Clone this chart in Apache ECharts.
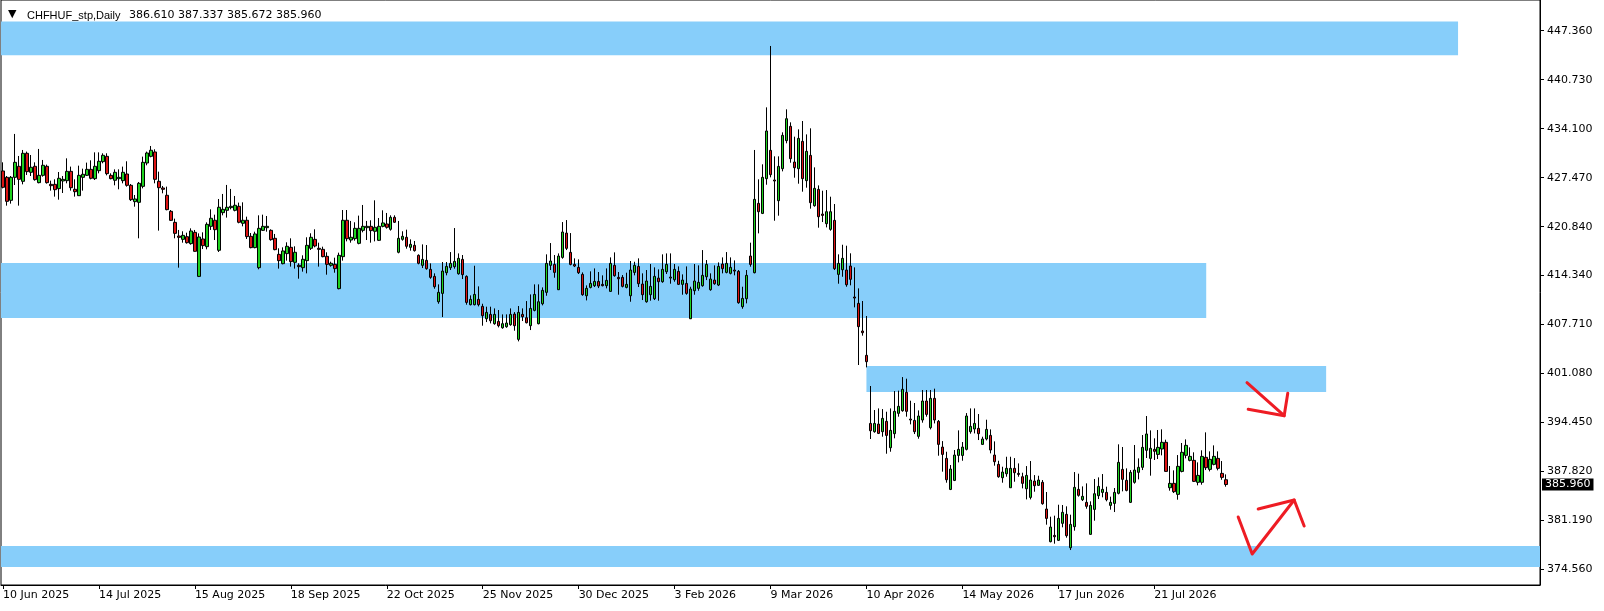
<!DOCTYPE html>
<html><head><meta charset="utf-8">
<script src="https://cdn.jsdelivr.net/npm/echarts@6/dist/echarts.min.js"></script>
<style>html,body{margin:0;padding:0;background:#fff}#c{width:1604px;height:611px}</style>
</head><body><div id="c"></div>
<script>
// ---- data ----
const symbolTitle = 'CHFHUF_stp,Daily';
const lastOHLC = [386.610, 387.337, 385.672, 385.960];
const priceTicks = [374.56, 381.19, 387.82, 394.45, 401.08, 407.71, 414.34, 420.84, 427.47, 434.10, 440.73, 447.36];
const dateTickLabels = ['10 Jun 2025','14 Jul 2025','15 Aug 2025','18 Sep 2025','22 Oct 2025','25 Nov 2025','30 Dec 2025','3 Feb 2026','9 Mar 2026','10 Apr 2026','14 May 2026','17 Jun 2026','21 Jul 2026'];
const holidays = ['2025-12-25','2026-01-01'];

const opens = [428.38,427.52,424.41,427.52,429.01,426.98,430.77,428.20,429.01,426.80,427.79,429.01,426.57,426.57,425.99,427.03,427.07,428.33,425.90,425.04,427.52,427.79,428.60,427.34,428.42,429.64,430.36,427.79,427.12,427.34,427.07,427.97,426.44,424.23,424.14,426.30,429.46,430.36,430.95,426.98,426.08,425.09,422.92,421.43,419.58,419.13,419.49,418.55,420.08,414.12,419.18,418.14,
420.89,421.71,417.65,422.74,423.06,423.42,423.06,423.60,421.30,421.71,419.54,418.01,415.30,420.35,420.71,420.35,419.27,417.10,415.84,417.20,418.05,416.02,415.62,415.30,416.25,417.92,419.13,417.92,417.78,416.83,415.62,415.75,412.46,416.79,421.71,419.04,419.22,418.59,420.35,420.71,420.89,420.22,419.00,420.89,421.21,420.49,422.11,417.38,419.13,419.41,418.05,418.32,416.97,
415.61,416.29,415.07,414.12,410.69,411.82,414.62,415.29,415.43,414.48,416.42,414.12,410.29,410.29,411.01,410.06,408.39,408.98,407.72,408.03,407.17,407.31,407.58,409.02,405.60,408.98,408.53,407.45,409.52,407.72,410.42,411.96,415.61,415.74,412.32,416.69,419.98,417.37,415.74,415.34,414.39,411.50,412.63,412.86,413.44,413.04,412.86,412.09,415.61,413.99,413.99,412.63,
411.50,414.66,415.47,413.08,410.69,411.64,411.10,413.89,413.40,414.75,413.89,413.67,414.80,413.04,413.17,408.39,412.18,412.50,412.86,414.07,412.32,413.62,412.95,415.79,414.66,414.53,414.98,414.80,410.02,411.10,416.87,414.62,424.00,422.64,427.34,431.17,427.16,424.36,428.69,432.48,434.42,429.59,428.69,432.39,427.07,430.49,423.68,425.89,422.55,421.25,420.48,421.70,414.39,415.02,414.98,
415.52,411.33,410.47,406.73,403.44,394.23,393.11,394.14,393.11,394.51,390.94,392.84,395.59,395.95,398.43,394.82,394.64,392.48,394.69,397.26,393.65,397.62,394.51,391.03,389.50,385.30,386.52,389.90,389.90,390.72,393.11,393.47,393.56,391.39,392.12,392.61,389.95,388.69,386.88,387.42,385.53,388.15,387.47,387.02,385.39,384.22,386.43,385.85,
386.26,382.65,378.23,379.08,378.41,380.71,381.93,377.41,380.26,385.31,383.91,383.55,379.22,382.60,384.45,384.90,384.90,383.14,383.41,384.77,388.01,386.53,383.55,386.26,387.61,388.29,390.59,389.50,390.72,390.04,390.77,391.67,385.53,386.12,384.63,387.74,389.91,389.23,389.23,386.26,386.26,389.64,388.01,388.69,389.50,387.47,386.61];

const closes = [426.17,424.27,427.52,429.55,427.25,430.77,428.29,428.88,427.21,427.79,429.15,426.80,426.39,425.85,427.39,427.25,428.33,426.12,425.58,427.79,427.93,428.60,427.39,429.01,429.69,430.50,428.02,427.34,428.20,427.52,428.20,426.44,424.50,424.59,426.71,429.55,430.81,431.18,427.25,426.12,425.90,423.15,421.70,419.94,419.40,419.67,418.68,420.26,417.51,419.45,418.28,421.16,
421.98,420.44,423.47,423.19,423.47,423.60,423.74,421.44,421.71,419.50,418.01,419.86,420.62,420.89,420.89,419.09,417.74,416.25,417.56,418.19,416.11,417.38,415.44,416.43,418.32,419.41,418.23,417.78,416.79,415.75,415.89,415.17,416.97,421.71,419.22,419.41,420.62,420.62,420.89,420.89,420.31,420.76,420.89,421.35,420.76,422.11,421.44,419.27,419.54,418.19,418.46,417.60,415.89,
416.42,415.16,413.99,412.72,411.96,414.84,415.47,415.88,416.15,416.56,414.35,410.60,411.01,411.68,410.29,408.80,409.25,408.12,408.98,407.45,407.72,407.81,408.98,407.45,409.25,408.66,407.85,409.79,411.68,410.69,412.23,415.88,416.20,414.66,416.87,420.12,417.91,415.74,415.52,414.62,411.64,412.50,413.17,413.44,412.81,412.86,413.58,415.88,414.21,413.80,412.77,413.04,
414.98,415.61,413.13,411.64,413.49,412.77,414.12,413.40,415.07,415.74,414.03,415.07,413.04,413.62,411.82,412.41,413.49,413.31,414.26,415.74,413.76,413.13,415.47,415.16,415.88,415.34,414.84,410.56,411.14,414.26,415.74,424.54,422.87,427.52,433.79,427.88,427.02,429.00,433.20,435.45,430.04,428.82,432.79,427.34,431.04,424.09,426.03,422.19,422.37,422.87,422.87,415.16,415.88,416.56,412.99,
413.72,411.19,407.32,406.50,402.58,393.24,394.23,392.88,394.91,392.61,393.29,395.86,396.54,398.84,395.86,394.69,393.11,395.23,397.26,395.45,397.62,394.69,391.39,390.04,386.61,388.06,389.95,390.72,391.03,395.23,393.83,394.23,392.84,392.12,393.42,390.63,389.05,387.02,387.65,388.15,388.15,387.56,387.33,386.12,387.20,386.57,385.80,386.57,
383.37,381.38,380.21,378.90,381.38,382.20,379.04,380.57,385.58,384.50,384.36,383.01,383.14,384.72,385.71,385.31,383.91,383.55,384.90,388.96,386.66,385.17,387.61,387.92,388.29,390.99,392.80,390.86,390.45,390.99,391.67,387.74,386.12,384.99,388.42,390.32,391.26,389.77,386.39,387.20,389.77,388.24,389.37,389.77,388.15,386.93,385.96];

const highs = [429.55,427.70,427.70,433.39,430.41,431.22,431.00,430.54,429.55,431.36,429.87,429.24,427.07,427.25,428.24,427.70,430.09,428.97,427.25,429.10,428.69,429.51,429.82,430.90,430.90,430.77,430.77,428.06,428.60,428.60,428.97,429.69,426.62,425.13,426.89,430.32,431.00,431.76,431.31,428.29,426.35,426.26,423.10,421.93,420.40,420.22,420.03,420.62,420.40,419.94,420.08,421.43,
423.19,422.47,424.59,425.27,426.49,425.95,425.00,424.10,424.14,422.20,419.99,420.17,422.38,422.47,422.29,420.49,419.86,417.92,418.05,418.73,419.27,418.19,415.89,416.97,419.41,419.95,420.49,418.68,418.14,417.38,416.11,416.65,417.33,423.10,423.10,421.62,421.44,422.34,423.78,421.62,421.71,424.41,422.02,423.06,422.70,422.38,422.38,421.62,420.22,420.44,419.13,418.91,417.10,
418.45,418.36,415.88,414.53,413.04,416.06,416.06,417.41,420.66,417.23,417.01,414.26,411.55,415.56,412.77,410.42,410.02,410.02,409.79,409.57,408.98,408.98,409.79,409.29,410.11,409.79,410.78,411.68,413.04,413.04,412.63,417.10,418.63,417.01,417.23,421.47,421.74,419.98,416.56,416.42,414.66,412.90,414.80,415.20,414.71,414.26,415.20,416.69,417.37,414.71,414.30,414.62,
416.20,416.10,416.56,414.53,414.98,415.79,415.34,415.07,417.10,417.23,417.23,415.79,415.47,414.39,415.47,412.72,415.79,415.61,417.68,416.33,414.53,415.61,416.01,416.69,417.41,416.69,416.28,414.98,412.72,414.98,418.68,431.22,427.25,429.28,436.99,445.29,430.36,430.36,433.61,436.72,434.96,433.02,434.01,435.14,433.33,434.15,428.87,426.43,425.71,425.80,424.90,423.91,417.10,418.40,418.27,
417.24,415.34,412.50,410.79,408.76,399.29,396.04,396.26,396.17,395.81,396.26,398.61,398.66,400.50,400.28,397.30,396.99,395.99,398.75,398.75,398.75,398.93,394.69,391.84,390.40,388.60,390.63,393.29,391.71,395.63,396.26,396.26,395.50,392.43,394.73,393.42,391.80,389.18,388.37,389.72,389.72,389.54,388.82,387.56,388.46,389.14,387.24,387.15,
386.57,384.95,381.61,381.75,383.23,383.19,383.01,381.88,387.65,387.43,385.71,386.12,383.69,386.71,386.93,387.38,385.67,384.32,385.49,391.40,391.04,388.15,387.92,391.31,389.50,392.66,395.23,393.29,392.21,393.34,393.43,392.03,388.47,387.88,389.95,391.58,392.07,390.99,390.32,388.96,390.59,393.02,390.45,391.26,390.45,389.14,387.337];

const lows = [426.03,423.69,423.96,426.48,423.69,426.57,427.84,427.70,427.07,426.71,427.61,426.67,425.72,424.91,424.50,425.40,426.71,425.72,424.91,425.00,425.72,427.70,427.25,427.16,428.06,429.42,427.79,427.25,426.44,425.90,426.71,426.26,424.32,423.55,419.27,426.03,429.15,430.23,426.71,420.31,425.36,423.06,421.61,419.27,415.30,418.68,418.55,418.41,417.46,414.03,417.82,417.78,
420.40,419.04,417.42,422.38,422.07,423.19,422.92,421.30,420.89,419.18,417.92,417.92,415.08,420.26,420.17,418.95,417.65,415.17,415.75,416.25,415.44,415.17,413.81,414.76,414.53,417.69,418.05,415.44,416.70,414.35,415.44,414.62,412.37,416.25,418.86,418.68,418.95,418.46,420.08,419.04,418.68,418.86,418.91,420.76,420.58,420.31,421.35,417.24,418.95,417.87,417.60,417.47,415.75,
415.25,415.02,413.80,412.45,410.42,408.62,414.26,414.98,415.16,414.35,413.76,410.29,410.20,410.20,410.06,407.45,407.94,407.76,407.58,407.22,407.04,407.17,407.45,406.77,405.33,408.08,407.76,406.86,409.39,407.63,410.20,411.50,414.98,413.94,412.27,416.51,417.68,415.61,415.38,414.44,411.50,410.87,412.50,412.68,412.54,412.77,412.50,412.05,414.08,411.64,412.63,412.50,
410.69,414.26,412.68,410.92,410.56,410.83,410.92,410.83,413.26,414.44,413.13,413.40,412.95,411.64,411.64,408.35,411.64,412.18,412.72,413.62,412.18,412.99,412.81,414.53,414.53,414.39,414.26,410.42,409.74,410.47,415.43,414.53,419.94,422.55,426.52,427.52,421.65,422.33,428.33,432.12,429.50,427.47,426.66,425.58,426.12,423.28,423.55,420.71,421.47,420.75,420.30,414.98,413.13,414.07,412.72,
412.91,409.93,402.13,406.10,401.81,392.12,392.97,392.79,392.43,390.13,390.40,392.21,395.14,395.81,395.14,394.10,392.79,392.16,394.33,395.14,393.42,394.23,389.86,387.70,386.21,385.21,386.43,388.96,389.18,390.58,392.84,392.88,391.98,391.35,391.93,390.18,388.51,386.88,386.21,387.02,385.53,386.34,387.02,385.44,383.95,383.95,384.99,385.76,
383.23,380.53,378.14,377.96,378.32,380.17,378.77,377.10,379.72,384.32,383.73,382.69,379.17,381.07,384.00,384.23,383.69,382.56,382.24,384.63,385.04,385.04,383.46,386.08,386.66,387.92,389.55,387.16,389.28,389.41,389.91,387.70,385.13,384.81,383.91,387.61,389.50,389.10,386.30,385.85,385.94,387.92,387.74,388.56,387.88,386.61,385.672];

// zones: [startIndex, endIndex, upperPrice, lowerPrice]
const zones = [
  [-0.5, 364, 448.60, 444.05],
  [-0.5, 301, 415.93, 408.49],
  [216, 331, 401.99, 398.48],
  [-0.5, 384.5, 377.64, 374.80]
];
// hand-drawn arrows: strokes of [barIndex, price]
const arrowStrokes = [
  [[311.2, 399.74], [320.5, 395.27]],
  [[311.5, 396.14], [320.5, 395.27], [321.4, 398.30]],
  [[309.0, 381.57], [312.5, 376.56], [323.0, 383.87]],
  [[314.0, 382.65], [323.0, 383.87], [325.5, 380.35]]
];
const totalSlots = 385;

// ---- build ----
const MON = ['Jan','Feb','Mar','Apr','May','Jun','Jul','Aug','Sep','Oct','Nov','Dec'];
function buildDates(n) {
  const out = [];
  const d = new Date(Date.UTC(2025, 5, 10));
  while (out.length < n) {
    const wd = d.getUTCDay();
    const iso = d.toISOString().slice(0, 10);
    if (wd !== 0 && wd !== 6 && holidays.indexOf(iso) < 0) {
      out.push(d.getUTCDate() + ' ' + MON[d.getUTCMonth()] + ' ' + d.getUTCFullYear());
    }
    d.setUTCDate(d.getUTCDate() + 1);
  }
  return out;
}
const dates = buildDates(totalSlots);
const candles = opens.map((o, i) => [o, closes[i], lows[i], highs[i]]);
const labelIdx = dateTickLabels.map(l => dates.indexOf(l));
const showAt = (i) => labelIdx.indexOf(i) >= 0;

const FONT = 'DejaVu Sans';
const chart = echarts.init(document.getElementById('c'), null, {renderer: 'canvas'});
chart.setOption({
  animation: false,
  backgroundColor: '#ffffff',
  title: [
    {text: '\u25BC', left: 3, top: 4, textStyle: {fontFamily: FONT, fontSize: 11, fontWeight: 'normal', color: '#000'}},
    {text: symbolTitle, left: 22, top: 5, textStyle: {fontFamily: 'Liberation Sans', fontSize: 11, fontWeight: 'normal', color: '#000'}},
    {text: lastOHLC.map(v => v.toFixed(3)).join(' '), left: 124, top: 5, textStyle: {fontFamily: FONT, fontSize: 11, fontWeight: 'normal', color: '#000'}}
  ],
  grid: {left: 1, right: 64, top: 0, bottom: 26, show: true, borderColor: '#000', borderWidth: 1, backgroundColor: '#fff', containLabel: false},
  xAxis: [
    {
      type: 'category', data: dates, boundaryGap: true,
      axisLine: {show: true, onZero: false, lineStyle: {color: '#000', width: 1}},
      axisTick: {show: true, alignWithLabel: true, length: 4, interval: (i) => showAt(i), lineStyle: {color: '#000'}},
      axisLabel: {show: true, interval: (i) => showAt(i), align: 'left', margin: 5, color: '#000', fontFamily: FONT, fontSize: 11},
      splitLine: {show: false}
    },
    {type: 'value', min: -0.5, max: totalSlots - 0.5, show: false, gridIndex: 0}
  ],
  yAxis: {
    type: 'value', position: 'right', min: 372.37, max: 451.51, scale: true,
    axisLine: {show: true, onZero: false, lineStyle: {color: '#000', width: 1}},
    axisTick: {show: true, length: 4, customValues: priceTicks, lineStyle: {color: '#000'}},
    axisLabel: {show: true, customValues: priceTicks, formatter: (v) => v.toFixed(3), margin: 7, color: '#000', fontFamily: FONT, fontSize: 11},
    splitLine: {show: false}
  },
  series: [
    {
      type: 'custom', xAxisIndex: 1, yAxisIndex: 0, z: 1, silent: true, clip: true,
      data: zones,
      renderItem: (params, api) => {
        const p0 = api.coord([api.value(0), api.value(2)]);
        const p1 = api.coord([api.value(1), api.value(3)]);
        return {type: 'rect', shape: {x: p0[0], y: p0[1], width: p1[0] - p0[0], height: p1[1] - p0[1]}, style: {fill: '#87CEFA'}};
      }
    },
    {
      type: 'candlestick', xAxisIndex: 0, yAxisIndex: 0, z: 2,
      data: candles, barWidth: 3,
      itemStyle: {color: '#1ed21e', color0: '#dc1414', borderColor: '#000', borderColor0: '#000', borderColorDoji: '#000', borderWidth: 1},
      markLine: {
        symbol: 'none', silent: true, animation: false,
        data: [{yAxis: lastOHLC[3]}],
        lineStyle: {color: 'rgba(0,0,0,0)', width: 1, type: 'solid'},
        label: {show: true, position: 'end', distance: 2, formatter: lastOHLC[3].toFixed(3), backgroundColor: '#000', color: '#fff', padding: [1, 3, 0, 3], fontFamily: FONT, fontSize: 11, opacity: 1}
      }
    },
    {
      type: 'custom', xAxisIndex: 1, yAxisIndex: 0, z: 3, silent: true,
      data: arrowStrokes.map((s, i) => [i]),
      renderItem: (params, api) => {
        const pts = arrowStrokes[api.value(0)].map(p => api.coord(p));
        return {type: 'polyline', shape: {points: pts}, style: {stroke: '#ee1c24', lineWidth: 3, fill: 'none', lineCap: 'round', lineJoin: 'round'}};
      }
    }
  ]
});
</script></body></html>
